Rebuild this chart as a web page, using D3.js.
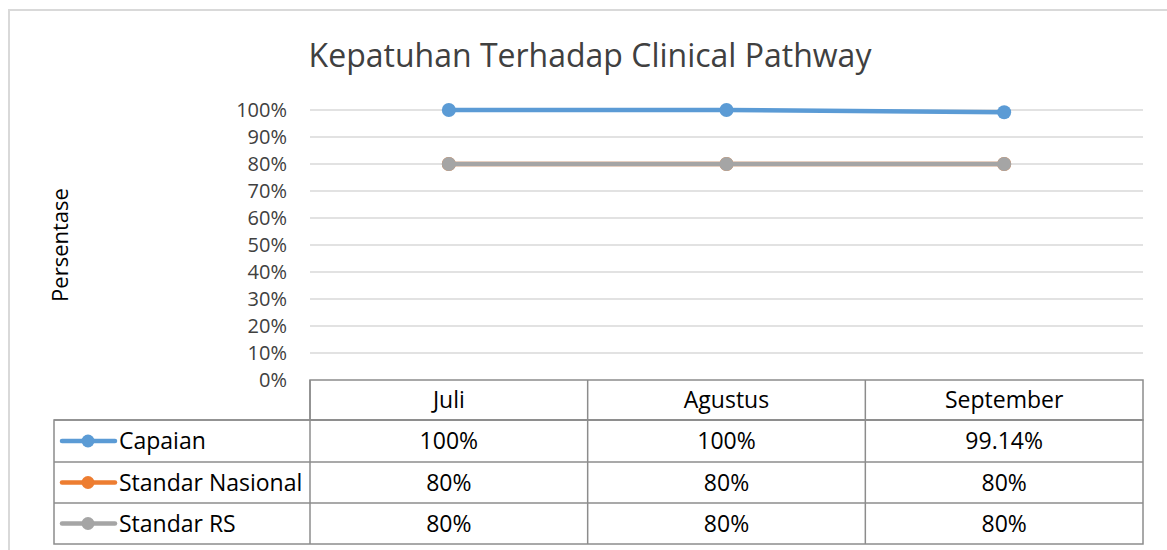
<!DOCTYPE html>
<html>
<head>
<meta charset="utf-8">
<script src="https://cdn.jsdelivr.net/npm/d3@7"></script>
<style>
  body { margin: 0; background: #fff; }
  svg text { font-family: "Open Sans", "Noto Sans", sans-serif; }
</style>
</head>
<body>
<div id="chart"></div>
<script>
// data
var months = ["Juli", "Agustus", "September"];
var seriesNames = ["Capaian", "Standar Nasional", "Standar RS"];
var capaian = [100, 100, 99.14];
var standarNasional = [80, 80, 80];
var standarRS = [80, 80, 80];
var seriesLabels = [["100%", "100%", "99.14%"], ["80%", "80%", "80%"], ["80%", "80%", "80%"]];
var colors = ["#5b9bd5", "#ed7d31", "#a5a5a5"];
var yTicks = [0, 10, 20, 30, 40, 50, 60, 70, 80, 90, 100];

var width = 1167, height = 550;
var svg = d3.select("#chart").append("svg")
  .attr("width", width)
  .attr("height", height);

// outer chart border
svg.append("rect")
  .attr("x", 9).attr("y", 10)
  .attr("width", 1170).attr("height", 560)
  .attr("fill", "none").attr("stroke", "#d9d9d9").attr("stroke-width", 2);

var plotLeft = 310, plotRight = 1143, plotTop = 110, plotBottom = 380;

var x = d3.scaleBand().domain(months).range([plotLeft, plotRight]).padding(0);
var y = d3.scaleLinear().domain([0, 100]).range([plotBottom, plotTop]);

// gridlines
svg.append("g").selectAll("line")
  .data(yTicks.filter(d => d > 0))
  .enter().append("line")
  .attr("x1", plotLeft).attr("x2", plotRight)
  .attr("y1", d => y(d)).attr("y2", d => y(d))
  .attr("stroke", "#d9d9d9").attr("stroke-width", 1.5);

// y axis labels
var yAxis = d3.axisLeft(y).tickValues(yTicks).tickFormat(d => d + "%").tickSize(0).tickPadding(23);
var ya = svg.append("g").attr("transform", "translate(" + plotLeft + ",0)").call(yAxis);
ya.select(".domain").remove();
ya.selectAll("text")
  .style("font-size", "20px")
  .style("fill", "#404040")
  .style("font-family", "'Open Sans', sans-serif");

// title
svg.append("text")
  .attr("x", 590).attr("y", 67)
  .attr("text-anchor", "middle")
  .style("font-size", "32px")
  .style("fill", "#404040")
  .text("Kepatuhan Terhadap Clinical Pathway");

// y label
svg.append("text")
  .attr("transform", "translate(68,245) rotate(-90)")
  .attr("text-anchor", "middle")
  .style("font-size", "22px")
  .style("fill", "#000")
  .text("Persentase");

// data table
var rowY = [380, 420, 462, 503, 544];
var tbl = svg.append("g");
var lineColor = "#8c8c8c";
var fs = "23px";
tbl.append("rect").attr("x", plotLeft).attr("y", rowY[0]).attr("width", plotRight - plotLeft).attr("height", rowY[1] - rowY[0])
  .attr("fill", "none").attr("stroke", lineColor).attr("stroke-width", 1.5);
tbl.append("rect").attr("x", 54).attr("y", rowY[1]).attr("width", plotRight - 54).attr("height", rowY[4] - rowY[1])
  .attr("fill", "none").attr("stroke", lineColor).attr("stroke-width", 1.5);
[1, 2, 3].forEach(i => {
  tbl.append("line").attr("x1", 54).attr("x2", plotRight).attr("y1", rowY[i]).attr("y2", rowY[i])
    .attr("stroke", lineColor).attr("stroke-width", 1.5);
});
months.forEach((m, i) => {
  tbl.append("line").attr("x1", x(m)).attr("x2", x(m)).attr("y1", rowY[0]).attr("y2", rowY[4])
    .attr("stroke", lineColor).attr("stroke-width", 1.5);
  tbl.append("text")
    .attr("x", x(m) + x.bandwidth() / 2).attr("y", (rowY[0] + rowY[1]) / 2 + 8)
    .attr("text-anchor", "middle").style("font-size", fs).style("fill", "#000")
    .text(m);
});
seriesLabels.forEach((row, r) => {
  var cy = (rowY[r + 1] + rowY[r + 2]) / 2;
  row.forEach((v, i) => {
    tbl.append("text")
      .attr("x", x(months[i]) + x.bandwidth() / 2).attr("y", cy + 8)
      .attr("text-anchor", "middle").style("font-size", fs).style("fill", "#000")
      .text(v);
  });
  // legend key
  tbl.append("line").attr("x1", 62).attr("x2", 115).attr("y1", cy).attr("y2", cy)
    .attr("stroke", colors[r]).attr("stroke-width", 4.5).attr("stroke-linecap", "round");
  tbl.append("circle").attr("cx", 88).attr("cy", cy).attr("r", 6.5).attr("fill", colors[r]);
  tbl.append("text").attr("x", 119).attr("y", cy + 8)
    .style("font-size", fs).style("fill", "#000").text(seriesNames[r]);
});

// lines
var allSeries = [capaian, standarNasional, standarRS];
var line = d3.line()
  .x((d, i) => x(months[i]) + x.bandwidth() / 2)
  .y(d => y(d));
allSeries.forEach((s, k) => {
  var g = svg.append("g");
  g.append("path").datum(s).attr("d", line)
    .attr("fill", "none").attr("stroke", colors[k]).attr("stroke-width", 4.5)
    .attr("stroke-linecap", "round");
  g.selectAll("circle").data(s).enter().append("circle")
    .attr("cx", (d, i) => x(months[i]) + x.bandwidth() / 2)
    .attr("cy", d => y(d))
    .attr("r", 7)
    .attr("fill", colors[k]);
});
</script>
</body>
</html>
